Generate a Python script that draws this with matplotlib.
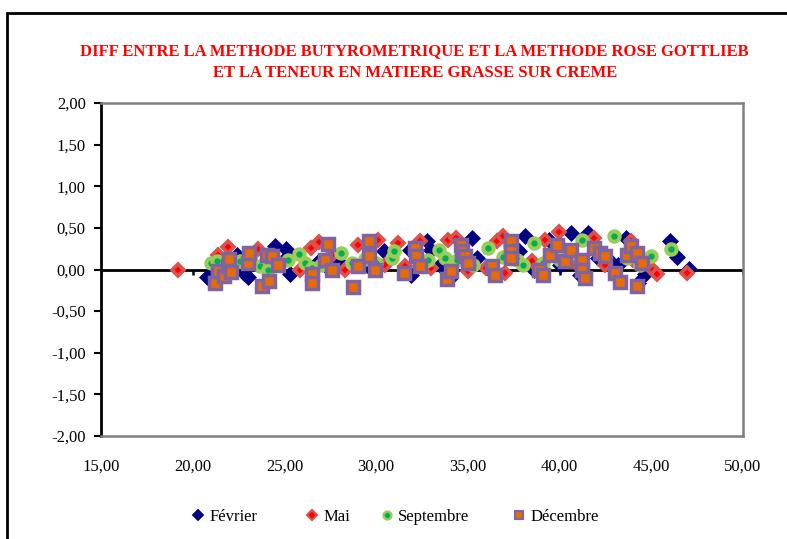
import matplotlib.pyplot as plt
from matplotlib.lines import Line2D
from matplotlib.patches import Rectangle
from matplotlib.ticker import FuncFormatter

# teneur en MG (x) et écart butyro - Rose Gottlieb (y), par campagne
fev_x = [20.8, 22.4, 22.8, 23.0, 24.5, 25.1, 25.2, 25.3, 26.85, 27.2, 27.85, 29.5,
         30.45, 31.85, 31.9, 32.76, 33.0, 33.5, 34.0, 35.2, 35.5, 36.2, 37.8, 38.1,
         38.6, 39.0, 39.4, 40.0, 40.6, 41.1, 41.55, 42.1, 42.85, 43.2, 43.6, 44.3,
         44.66, 46.0, 46.4, 47.05]
fev_y = [-0.09, 0.18, -0.04, -0.09, 0.28, 0.25, 0.16, -0.06, 0.09, 0.05, 0.11, 0.05,
         0.22, 0.23, -0.07, 0.34, 0.24, 0.05, -0.10, 0.38, 0.14, 0.00, 0.22, 0.40,
         0.00, -0.05, 0.35, 0.05, 0.44, -0.07, 0.44, 0.14, 0.08, 0.06, 0.38, -0.16,
         -0.06, 0.34, 0.15, 0.01]

mai_x = [19.2, 21.4, 21.94, 22.3, 23.58, 24.6, 25.85, 26.45, 26.9, 27.58, 28.3, 29.03,
         30.08, 30.5, 31.2, 31.6, 32.4, 33.0, 33.9, 34.35, 35.0, 36.0, 36.6, 36.9,
         37.0, 37.4, 38.5, 39.2, 39.97, 40.5, 41.0, 41.9, 42.5, 43.9, 44.0, 45.1,
         45.3, 46.95]
mai_y = [0.00, 0.18, 0.27, 0.05, 0.25, 0.10, 0.00, 0.26, 0.33, 0.18, 0.00, 0.29,
         0.36, 0.05, 0.32, 0.04, 0.34, 0.02, 0.36, 0.38, -0.02, 0.02, 0.34, 0.40,
         -0.04, 0.14, 0.10, 0.36, 0.45, 0.15, 0.05, 0.38, 0.05, 0.34, 0.12, -0.01,
         -0.06, -0.04]

sep_x = [21.0, 21.3, 22.6, 23.1, 23.67, 24.1, 25.2, 25.8, 26.1, 26.5, 27.0, 28.1,
         28.7, 29.4, 30.0, 30.85, 31.0, 32.6, 32.85, 33.4, 33.76, 34.4, 35.3, 36.1,
         36.9, 37.3, 37.7, 38.0, 38.6, 39.1, 40.0, 40.46, 41.2, 42.4, 42.95, 43.7,
         44.4, 45.0, 46.1]
sep_y = [0.08, 0.10, 0.10, 0.14, 0.04, 0.00, 0.11, 0.19, 0.08, 0.02, 0.06, 0.20,
         0.08, 0.13, 0.08, 0.14, 0.22, 0.09, 0.12, 0.24, 0.14, 0.12, 0.06, 0.26,
         0.15, 0.28, 0.12, 0.05, 0.32, 0.08, 0.12, 0.18, 0.36, 0.18, 0.40, 0.14,
         0.06, 0.16, 0.25]

dec_x = [21.2, 21.4, 21.7, 21.94, 22.0, 22.1, 23.03, 23.07, 23.76, 24.03, 24.16, 24.3,
         24.67, 26.5, 26.5, 27.2, 27.36, 27.58, 28.76, 29.0, 29.6, 29.6, 29.94, 31.5,
         32.1, 32.15, 32.4, 33.85, 34.1, 34.6, 34.7, 34.85, 35.03, 36.3, 36.5, 37.36,
         37.36, 37.36, 38.9, 39.1, 39.48, 39.85, 40.3, 40.6, 41.2, 41.2, 41.4, 41.85,
         42.2, 42.5, 43.0, 43.3, 43.7, 43.9, 44.2, 44.2, 44.5]
dec_y = [-0.16, -0.02, -0.08, 0.04, 0.13, -0.03, 0.08, 0.20, -0.20, 0.18, -0.14, 0.16,
         0.06, -0.06, -0.16, 0.12, 0.31, -0.01, -0.21, 0.04, 0.16, 0.34, 0.00, -0.04,
         0.26, 0.16, 0.04, -0.12, -0.02, 0.29, 0.22, 0.16, 0.08, 0.04, -0.07, 0.34,
         0.22, 0.14, 0.00, -0.07, 0.18, 0.30, 0.10, 0.24, 0.12, 0.00, -0.10, 0.26,
         0.20, 0.16, -0.04, -0.15, 0.18, 0.28, 0.20, -0.20, 0.08]

xticks = [15, 20, 25, 30, 35, 40, 45, 50]
yticks = [-2.0, -1.5, -1.0, -0.5, 0.0, 0.5, 1.0, 1.5, 2.0]

title = ("DIFF ENTRE LA METHODE BUTYROMETRIQUE ET LA METHODE ROSE GOTTLIEB\n"
         "ET LA TENEUR EN MATIERE GRASSE SUR CREME")

serif = ["Liberation Serif", "DejaVu Serif"]
plt.rcParams["font.family"] = serif

fig = plt.figure(figsize=(7.87, 5.39), dpi=100)
ax = fig.add_axes([101 / 787, 1 - 436 / 539, 642 / 787, 333 / 539])

styles = {
    "Février": dict(marker="D", ms=7.8, mfc="#000080", mec="#000080", mew=0.5),
    "Mai": dict(marker="D", ms=6.5, mfc="#FF0000", mec="#D9534F", mew=2.6),
    "Septembre": dict(marker="o", ms=7.5, mfc="#00B050", mec="#9BCB5A", mew=2.9),
    "Décembre": dict(marker="s", ms=8, mfc="#E46C0A", mec="#8064A2", mew=2.5),
}
series = [("Février", fev_x, fev_y), ("Mai", mai_x, mai_y),
          ("Septembre", sep_x, sep_y), ("Décembre", dec_x, dec_y)]

ax.axhline(0, color="black", lw=2, zorder=2)
ax.vlines(xticks, -0.065, 0, color="black", lw=1.8, zorder=2)

for i, (name, xs, ys) in enumerate(series):
    ax.plot(xs, ys, ls="none", zorder=3 + i, **styles[name])

ax.set_xlim(15, 50)
ax.set_ylim(-2, 2)
ax.set_xticks(xticks)
ax.set_yticks(yticks)
fmt = FuncFormatter(lambda v, p: f"{v:.2f}".replace(".", ","))
ax.xaxis.set_major_formatter(fmt)
ax.yaxis.set_major_formatter(fmt)
ax.tick_params(axis="x", length=0, pad=16, labelsize=12)
ax.tick_params(axis="y", length=5, width=1.5, pad=6, labelsize=12, direction="out")

for side in ["top", "right", "bottom"]:
    ax.spines[side].set_color("#808080")
    ax.spines[side].set_linewidth(1.8)
ax.spines["left"].set_color("black")
ax.spines["left"].set_linewidth(2)

fig.text(0.527, 1 - 62 / 539, title, color="red", fontweight="bold", fontsize=12,
         ha="center", va="center", linespacing=1.45)

# cadre extérieur du graphique
fig.patches.append(Rectangle((7 / 787, -0.2), 1.2, 1.2 - 13 / 539,
                             transform=fig.transFigure, fill=False,
                             ec="black", lw=2))

legend_x = [191, 305, 380, 512]
for (name, xs, ys), lx in zip(series, legend_x):
    st = dict(styles[name])
    st["ms"] = st["ms"] * 0.75
    st["mew"] = st["mew"] * 0.6
    h = Line2D([], [], ls="none", **st)
    fig.legend(handles=[h], labels=[name], loc="center left",
               bbox_to_anchor=(lx / 787, 1 - 517 / 539), frameon=False,
               fontsize=12, handlelength=0.8, handletextpad=0.3,
               borderpad=0, borderaxespad=0)

fig.savefig("out.png", dpi=100)
